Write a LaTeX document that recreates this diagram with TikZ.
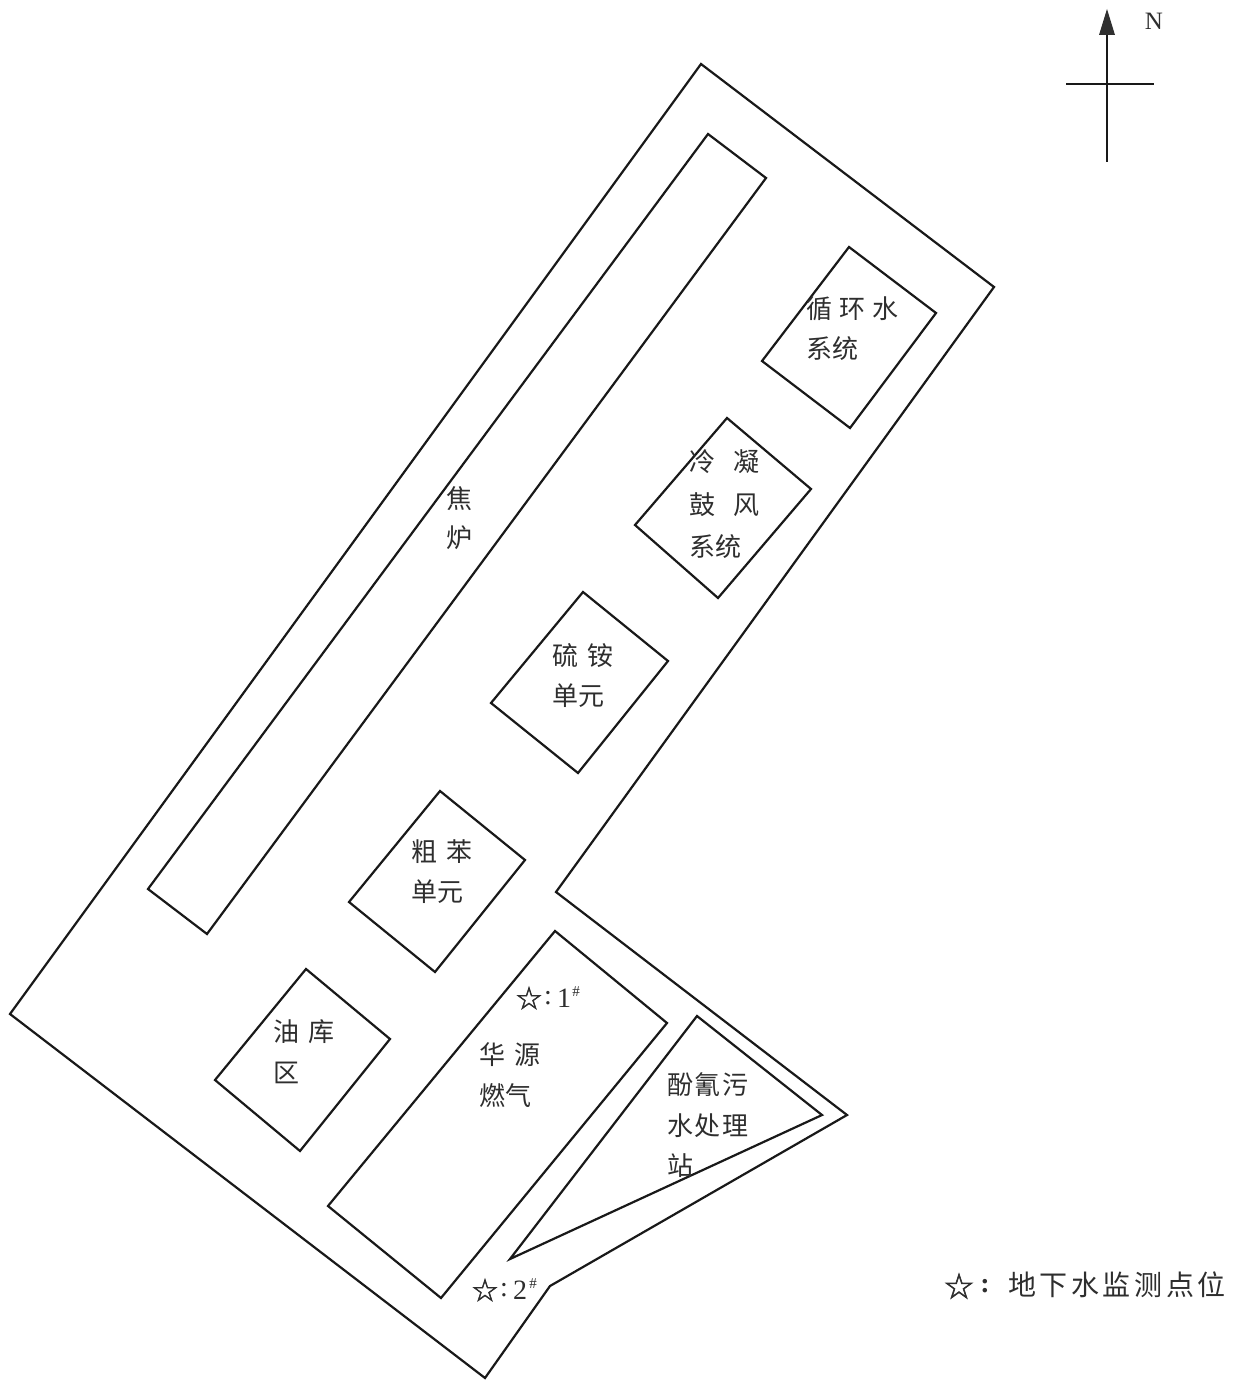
\documentclass[tikz,border=0pt]{standalone}
\usepackage{fontspec}
\setmainfont{Liberation Serif}
\newfontfamily\cjk{Noto Sans CJK SC}
\newfontfamily\sym[FakeBold=1.6]{DejaVu Sans}
\usetikzlibrary{arrows.meta}
\definecolor{ink}{gray}{0.1}
\definecolor{txt}{gray}{0.18}
\tikzset{
  plan/.style={draw=ink,line width=2.2pt,line join=miter},
  lab/.style={anchor=west,inner sep=0pt,outer sep=0pt,text=txt,text height=22pt,text depth=2.2pt,
     font=\fontsize{26}{26}\selectfont\cjk},
  spaced/.style={lab,font=\fontsize{26}{26}\selectfont\cjk\addfontfeature{LetterSpace=#1}},
  bigspaced/.style={lab,font=\fontsize{28}{28}\selectfont\cjk\addfontfeature{LetterSpace=#1}},
  starmark/.style={anchor=center,inner sep=0pt,text=txt,font=\fontsize{31}{31}\selectfont\sym},
  latin/.style={anchor=center,inner sep=0pt,text=txt,font=\fontsize{28}{28}\selectfont},
}
\begin{document}
\begin{tikzpicture}[x=1pt,y=-1pt]
\useasboundingbox (0,0) rectangle (1247,1380);
% outline
\draw[plan] (701,64) -- (994,287) -- (556,892) -- (847,1115) -- (550,1286) -- (485,1378) -- (10,1014) -- cycle;
% furnace and units
\draw[plan] (708,134) -- (766,178) -- (207,934) -- (148,889) -- cycle;
\draw[plan] (849,247) -- (936,313) -- (850,428) -- (762,361) -- cycle;
\draw[plan] (727,418) -- (811,489) -- (718,598) -- (635,525) -- cycle;
\draw[plan] (583,592) -- (668,661) -- (578,773) -- (491,703) -- cycle;
\draw[plan] (440,791) -- (525,860) -- (435,972) -- (349,902) -- cycle;
\draw[plan] (306,969) -- (390,1039) -- (300,1151) -- (215,1080) -- cycle;
\draw[plan] (555,931) -- (667,1023) -- (441,1298) -- (328,1206) -- cycle;
\draw[plan] (697,1016) -- (822,1115) -- (510,1259) -- cycle;
% north arrow
\coordinate (ntail) at (1107,162);
\coordinate (ntip) at (1107,9);
\coordinate (wend) at (1066,84);
\coordinate (eend) at (1154,84);
\draw[ink,line width=2.2pt] (ntail) -- (1107,30);
\fill[ink!90] (ntip) -- (1115,35) -- (1099,35) -- cycle;
\draw[ink,line width=2.2pt] (wend) -- (eend);
\node[latin,font=\fontsize{25}{25}\selectfont] (north) at (1154,21) {N};
% labels
\node[spaced=27] (a1) at (806,309) {循环水};
\node[lab] (a2) at (806,349) {系统};
\node[spaced=73] (b1) at (689,462) {冷凝};
\node[spaced=73] (b2) at (689,505) {鼓风};
\node[lab] (b3) at (689,547) {系统};
\node[spaced=36] (c1) at (552,656) {硫铵};
\node[lab] (c2) at (552,696) {单元};
\node[spaced=36] (d1) at (411,852) {粗苯};
\node[lab] (d2) at (411,892) {单元};
\node[spaced=36] (e1) at (273,1032) {油库};
\node[lab] (e2) at (273,1073) {区};
\node[spaced=38] (f1) at (479,1055) {华源};
\node[lab] (f2) at (479,1096) {燃气};
\node[spaced=7] (g1) at (667,1085) {酚氰污};
\node[spaced=7] (g2) at (667,1126) {水处理};
\node[lab] (g3) at (667,1166) {站};
\node[lab] (h1) at (446,499) {焦};
\node[lab] (h2) at (446,538) {炉};
% monitoring points
\node[starmark] (s1) at (529,998) {☆};
\node[latin] (s1c) at (548,998) {:};
\node[latin] (s1n) at (564,998) {1};
\node[latin,font=\fontsize{15}{15}\selectfont] (s1h) at (576,992) {\#};
\node[starmark] (s2) at (485,1290) {☆};
\node[latin] (s2c) at (504,1290) {:};
\node[latin] (s2n) at (520,1290) {2};
\node[latin,font=\fontsize{15}{15}\selectfont] (s2h) at (533,1284) {\#};
% legend
\node[starmark,font=\fontsize{35}{35}\selectfont\sym] (ls) at (959,1286) {☆};
\node[latin,font=\fontsize{28}{28}\selectfont\bfseries] (lc) at (985,1286) {:};
\node[bigspaced=13] (lt) at (1008,1286) {地下水监测点位};
\end{tikzpicture}
\end{document}
